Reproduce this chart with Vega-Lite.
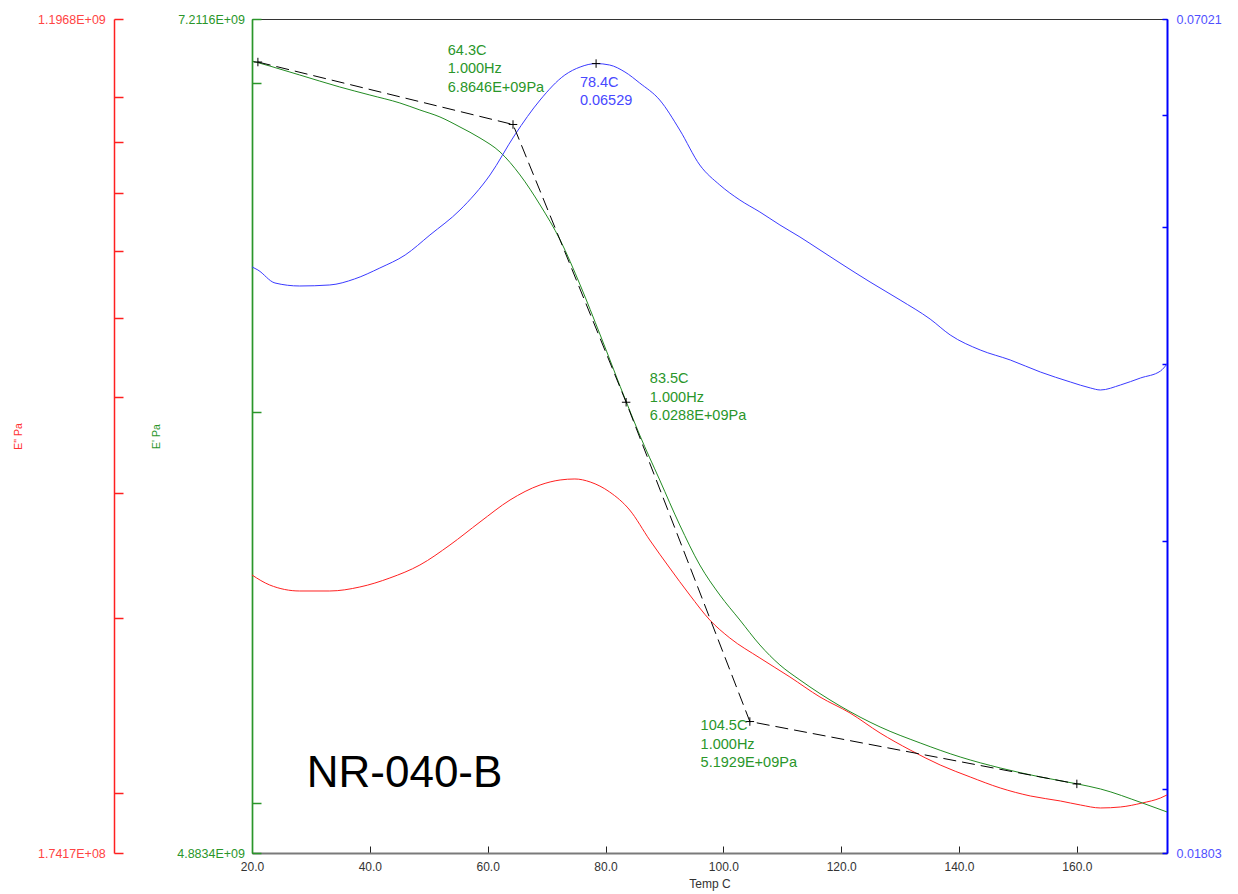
{
  "$schema": "https://vega.github.io/schema/vega-lite/v6.json",
  "width": 915,
  "height": 834,
  "autosize": {"type": "none"},
  "padding": {"left": 252, "top": 19, "right": 71, "bottom": 41},
  "background": "white",
  "config": {
    "view": {"stroke": "#333333", "strokeWidth": 1},
    "font": "Liberation Sans"
  },
  "datasets": {
    "red": [
      {"T": 20.0, "v": 3.3113e8}, {"T": 23.0, "v": 3.2357e8}, {"T": 28.1, "v": 3.1911e8}, {"T": 33.2, "v": 3.1911e8},
      {"T": 38.3, "v": 3.2207e8}, {"T": 43.4, "v": 3.2885e8}, {"T": 48.5, "v": 3.3888e8}, {"T": 53.6, "v": 3.5491e8},
      {"T": 58.7, "v": 3.7429e8}, {"T": 63.8, "v": 3.9381e8}, {"T": 68.9, "v": 4.0770e8}, {"T": 72.3, "v": 4.1244e8},
      {"T": 74.8, "v": 4.1340e8}, {"T": 77.4, "v": 4.1054e8}, {"T": 80.7, "v": 4.0116e8}, {"T": 84.1, "v": 3.8482e8},
      {"T": 87.5, "v": 3.5904e8}, {"T": 90.9, "v": 3.3653e8}, {"T": 94.3, "v": 3.1618e8}, {"T": 97.7, "v": 2.9843e8},
      {"T": 101.1, "v": 2.8627e8}, {"T": 106.2, "v": 2.7334e8}, {"T": 111.3, "v": 2.6160e8}, {"T": 116.4, "v": 2.4978e8},
      {"T": 121.5, "v": 2.4071e8}, {"T": 126.6, "v": 2.2984e8}, {"T": 131.7, "v": 2.2099e8}, {"T": 136.8, "v": 2.1346e8},
      {"T": 141.9, "v": 2.0762e8}, {"T": 147.0, "v": 2.0241e8}, {"T": 152.1, "v": 1.9871e8}, {"T": 157.2, "v": 1.9642e8},
      {"T": 160.6, "v": 1.9461e8}, {"T": 164.0, "v": 1.9327e8}, {"T": 167.4, "v": 1.9371e8}, {"T": 171.1, "v": 1.9552e8},
      {"T": 174.2, "v": 1.9779e8}, {"T": 175.3, "v": 1.9917e8}
    ],
    "green": [
      {"T": 20.0, "v": 7.0714e9}, {"T": 23.0, "v": 7.0549e9}, {"T": 28.1, "v": 7.0253e9}, {"T": 34.9, "v": 6.9860e9},
      {"T": 40.0, "v": 6.9599e9}, {"T": 45.1, "v": 6.9340e9}, {"T": 48.5, "v": 6.9113e9}, {"T": 51.9, "v": 6.8888e9},
      {"T": 55.3, "v": 6.8566e9}, {"T": 58.7, "v": 6.8214e9}, {"T": 62.1, "v": 6.7770e9}, {"T": 65.5, "v": 6.7045e9},
      {"T": 68.9, "v": 6.6111e9}, {"T": 72.3, "v": 6.5039e9}, {"T": 75.7, "v": 6.3684e9}, {"T": 79.1, "v": 6.2214e9},
      {"T": 83.6, "v": 6.0266e9}, {"T": 85.8, "v": 5.9372e9}, {"T": 89.2, "v": 5.8136e9}, {"T": 92.6, "v": 5.6926e9},
      {"T": 96.0, "v": 5.5872e9}, {"T": 99.4, "v": 5.5094e9}, {"T": 102.8, "v": 5.4454e9}, {"T": 106.2, "v": 5.3822e9},
      {"T": 109.6, "v": 5.3320e9}, {"T": 113.0, "v": 5.2948e9}, {"T": 119.8, "v": 5.2309e9}, {"T": 126.6, "v": 5.1798e9},
      {"T": 133.4, "v": 5.1412e9}, {"T": 140.2, "v": 5.1076e9}, {"T": 147.0, "v": 5.0814e9}, {"T": 153.8, "v": 5.0601e9},
      {"T": 160.1, "v": 5.0436e9}, {"T": 164.0, "v": 5.0318e9}, {"T": 171.1, "v": 4.9990e9}, {"T": 175.3, "v": 4.9780e9}
    ],
    "blue": [
      {"T": 20.0, "v": 0.046865}, {"T": 21.0, "v": 0.046636}, {"T": 23.9, "v": 0.045658}, {"T": 28.1, "v": 0.045435},
      {"T": 33.2, "v": 0.045510}, {"T": 37.4, "v": 0.045957}, {"T": 41.7, "v": 0.046788}, {"T": 46.0, "v": 0.047790},
      {"T": 50.2, "v": 0.049374}, {"T": 55.3, "v": 0.051427}, {"T": 60.4, "v": 0.054449}, {"T": 64.6, "v": 0.058114},
      {"T": 68.9, "v": 0.061526}, {"T": 73.1, "v": 0.064085}, {"T": 75.7, "v": 0.064926}, {"T": 78.4, "v": 0.06529},
      {"T": 80.7, "v": 0.065138}, {"T": 83.3, "v": 0.064399}, {"T": 85.8, "v": 0.063255}, {"T": 89.2, "v": 0.061526},
      {"T": 92.6, "v": 0.058590}, {"T": 96.0, "v": 0.055341}, {"T": 99.4, "v": 0.053566}, {"T": 102.8, "v": 0.052272},
      {"T": 106.2, "v": 0.051260}, {"T": 109.6, "v": 0.050186}, {"T": 113.0, "v": 0.049213}, {"T": 116.4, "v": 0.048182},
      {"T": 119.8, "v": 0.047171}, {"T": 124.9, "v": 0.045733}, {"T": 130.0, "v": 0.044410}, {"T": 135.1, "v": 0.043050},
      {"T": 138.5, "v": 0.041950}, {"T": 143.6, "v": 0.040934}, {"T": 148.7, "v": 0.040272},
      {"T": 153.8, "v": 0.039492}, {"T": 158.9, "v": 0.038854}, {"T": 162.3, "v": 0.038476}, {"T": 164.0, "v": 0.038350},
      {"T": 167.4, "v": 0.038664}, {"T": 170.8, "v": 0.039108}, {"T": 174.2, "v": 0.039556}, {"T": 175.3, "v": 0.040010}
    ],
    "onset": [
      {"T": 21.0, "v": 7.068e9}, {"T": 64.3, "v": 6.8646e9}, {"T": 83.5, "v": 6.0288e9},
      {"T": 104.5, "v": 5.1929e9}, {"T": 160.0, "v": 5.0437e9}
    ],
    "peak": [{"T": 78.4, "v": 0.06529}],
    "greenNotes": [
      {"T": 53.23, "v": 7.0929e9, "label": "64.3C\n1.000Hz\n6.8646E+09Pa"},
      {"T": 87.53, "v": 6.0819e9, "label": "83.5C\n1.000Hz\n6.0288E+09Pa"},
      {"T": 96.14, "v": 5.1713e9, "label": "104.5C\n1.000Hz\n5.1929E+09Pa"}
    ],
    "blueNotes": [{"T": 75.65, "v": 0.062844, "label": "78.4C\n0.06529"}],
    "sample": [{"T": 29.29, "v": 5.0365e9, "label": "NR-040-B"}]
  },
  "encoding": {
    "x": {
      "field": "T", "type": "quantitative",
      "scale": {"domain": [20, 175.3], "nice": false, "zero": false},
      "axis": {
        "values": [20, 40, 60, 80, 100, 120, 140, 160],
        "format": ".1f",
        "labelFlush": false,
        "grid": false,
        "domainColor": "#7a7a7a", "domainWidth": 2,
        "tickColor": "#222222", "tickSize": -7, "tickWidth": 1,
        "labelPadding": 15, "labelColor": "#333333", "labelFontSize": 12,
        "title": "Temp C", "titleColor": "#333333", "titleFontSize": 12, "titleFontWeight": "normal",
        "titleY": 30, "titleBaseline": "middle"
      }
    }
  },
  "layer": [
    {
      "data": {"name": "red"},
      "mark": {"type": "line", "color": "#ff2020", "strokeWidth": 1, "interpolate": "monotone"},
      "encoding": {
        "y": {
          "field": "v", "type": "quantitative",
          "scale": {"type": "log", "domain": [1.7417e8, 1.1968e9], "nice": false, "zero": false},
          "axis": {
            "orient": "left", "offset": 138, "grid": false,
            "values": [1.7417e8, 2e8, 3e8, 4e8, 5e8, 6e8, 7e8, 8e8, 9e8, 1e9, 1.1968e9],
            "labelExpr": "datum.value > 1.19e9 ? '1.1968E+09' : (datum.value < 1.75e8 ? '1.7417E+08' : '')",
            "domainColor": "#ff2020", "domainWidth": 1.5,
            "tickColor": "#ff2020", "tickSize": -9, "tickWidth": 1.5,
            "labelPadding": 17.7, "labelColor": "#ff4444", "labelFontSize": 12.5,
            "title": "E\" Pa", "titleColor": "#ff3030", "titleFontSize": 10.5, "titleFontWeight": "normal",
            "titleAngle": -90, "titleX": -96, "titleY": 417, "titleAlign": "center", "titleBaseline": "middle"
          }
        }
      }
    },
    {
      "data": {"name": "green"},
      "mark": {"type": "line", "color": "#228b22", "strokeWidth": 1, "interpolate": "monotone"},
      "encoding": {
        "y": {
          "field": "v", "type": "quantitative",
          "scale": {"type": "log", "domain": [4.8834e9, 7.2116e9], "nice": false, "zero": false},
          "axis": {
            "orient": "left", "offset": 0, "grid": false,
            "values": [4.8834e9, 5e9, 6e9, 7e9, 7.2116e9],
            "labelExpr": "datum.value > 7.2e9 ? '7.2116E+09' : (datum.value < 4.89e9 ? '4.8834E+09' : '')",
            "domainColor": "#2a962a", "domainWidth": 1.7,
            "tickColor": "#2a962a", "tickSize": -9, "tickWidth": 1.5,
            "labelPadding": 16.5, "labelColor": "#2a962a", "labelFontSize": 12.5,
            "title": "E' Pa", "titleColor": "#2a962a", "titleFontSize": 10.5, "titleFontWeight": "normal",
            "titleAngle": -90, "titleX": -95.3, "titleY": 417, "titleAlign": "center", "titleBaseline": "middle"
          }
        }
      }
    },
    {
      "data": {"name": "blue"},
      "mark": {"type": "line", "color": "#3a3aff", "strokeWidth": 1, "interpolate": "monotone"},
      "encoding": {
        "y": {
          "field": "v", "type": "quantitative",
          "scale": {"type": "log", "domain": [0.01803, 0.07021], "nice": false, "zero": false},
          "axis": {
            "orient": "right", "grid": false,
            "values": [0.01803, 0.02, 0.03, 0.04, 0.05, 0.06, 0.07021],
            "labelExpr": "datum.value > 0.0702 ? '0.07021' : (datum.value < 0.0181 ? '0.01803' : '')",
            "domainColor": "#0000ff", "domainWidth": 2,
            "tickColor": "#0000ff", "tickSize": -5, "tickWidth": 1.5,
            "labelPadding": 14, "labelColor": "#5050ff", "labelFontSize": 12.5,
            "title": null
          }
        }
      }
    },
    {
      "data": {"name": "onset"},
      "mark": {"type": "line", "color": "#000000", "strokeWidth": 1, "strokeDash": [13, 6]},
      "encoding": {
        "y": {"field": "v", "type": "quantitative",
              "scale": {"type": "log", "domain": [4.8834e9, 7.2116e9], "nice": false, "zero": false}, "axis": null}
      }
    },
    {
      "data": {"name": "onset"},
      "mark": {"type": "point", "shape": "M-1,0H1M0,-1V1", "size": 72, "filled": false, "color": "#000000", "strokeWidth": 1, "opacity": 1},
      "encoding": {
        "y": {"field": "v", "type": "quantitative",
              "scale": {"type": "log", "domain": [4.8834e9, 7.2116e9], "nice": false, "zero": false}, "axis": null}
      }
    },
    {
      "data": {"name": "peak"},
      "mark": {"type": "point", "shape": "M-1,0H1M0,-1V1", "size": 72, "filled": false, "color": "#000000", "strokeWidth": 1, "opacity": 1},
      "encoding": {
        "y": {"field": "v", "type": "quantitative",
              "scale": {"type": "log", "domain": [0.01803, 0.07021], "nice": false, "zero": false}, "axis": null}
      }
    },
    {
      "data": {"name": "greenNotes"},
      "mark": {"type": "text", "align": "left", "baseline": "alphabetic", "lineBreak": "\n", "lineHeight": 18.5,
               "fontSize": 14.5, "color": "#2a962a"},
      "encoding": {
        "y": {"field": "v", "type": "quantitative",
              "scale": {"type": "log", "domain": [4.8834e9, 7.2116e9], "nice": false, "zero": false}, "axis": null},
        "text": {"field": "label"}
      }
    },
    {
      "data": {"name": "blueNotes"},
      "mark": {"type": "text", "align": "left", "baseline": "alphabetic", "lineBreak": "\n", "lineHeight": 18.5,
               "fontSize": 14.5, "color": "#4848ff"},
      "encoding": {
        "y": {"field": "v", "type": "quantitative",
              "scale": {"type": "log", "domain": [0.01803, 0.07021], "nice": false, "zero": false}, "axis": null},
        "text": {"field": "label"}
      }
    },
    {
      "data": {"name": "sample"},
      "mark": {"type": "text", "align": "left", "baseline": "alphabetic", "fontSize": 44, "color": "#000000"},
      "encoding": {
        "y": {"field": "v", "type": "quantitative",
              "scale": {"type": "log", "domain": [4.8834e9, 7.2116e9], "nice": false, "zero": false}, "axis": null},
        "text": {"field": "label"}
      }
    }
  ],
  "resolve": {"scale": {"y": "independent"}, "axis": {"y": "independent"}}
}
